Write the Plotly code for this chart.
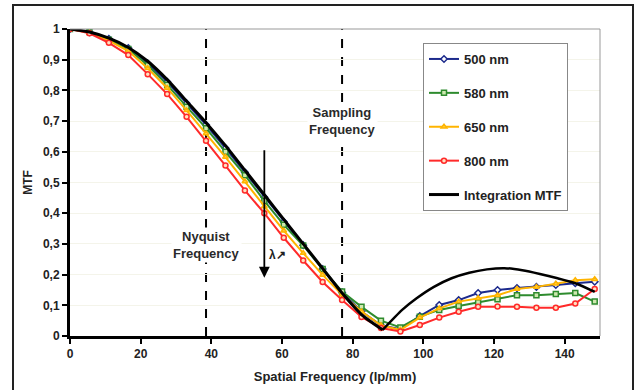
import plotly.graph_objects as go

freq = [0, 5.5, 11, 16.5, 22, 27.5, 33, 38.5, 44, 49.5, 55, 60.5, 66, 71.5, 77,
        82.5, 88, 93.5, 99, 104.5, 110, 115.5, 121, 126.5, 132, 137.5, 143, 148.5]

mtf_500 = [1.0, 0.99, 0.968, 0.938, 0.888, 0.828, 0.758, 0.688, 0.612, 0.533, 0.452, 0.372, 0.296, 0.218,
           0.142, 0.08, 0.035, 0.022, 0.065, 0.101, 0.117, 0.14, 0.15, 0.156, 0.16, 0.166, 0.172, 0.177]
mtf_580 = [1.0, 0.99, 0.965, 0.935, 0.882, 0.818, 0.747, 0.677, 0.600, 0.524, 0.440, 0.362, 0.295, 0.218,
           0.145, 0.095, 0.05, 0.028, 0.063, 0.085, 0.098, 0.11, 0.12, 0.133, 0.133, 0.137, 0.14, 0.112]
mtf_650 = [1.0, 0.988, 0.962, 0.928, 0.872, 0.808, 0.735, 0.66, 0.583, 0.503, 0.422, 0.343, 0.27, 0.199,
           0.134, 0.08, 0.035, 0.02, 0.06, 0.09, 0.112, 0.123, 0.133, 0.153, 0.16, 0.17, 0.182, 0.185]
mtf_800 = [1.0, 0.986, 0.955, 0.915, 0.853, 0.788, 0.714, 0.636, 0.555, 0.474, 0.40, 0.32, 0.246, 0.176,
           0.117, 0.062, 0.026, 0.015, 0.036, 0.06, 0.079, 0.095, 0.096, 0.095, 0.092, 0.092, 0.106, 0.153]

# integration MTF: main lobe and second lobe
int_freq_a = [0, 5.5, 11, 16.5, 22, 27.5, 33, 38.5, 44, 49.5, 55, 60.5, 66, 71.5, 77, 82.5, 88.5]
int_mtf_a = [1.0, 0.99, 0.97, 0.94, 0.895, 0.835, 0.765, 0.695, 0.62, 0.54, 0.46, 0.38, 0.30, 0.22, 0.14,
             0.07, 0.02]
int_freq_b = [88.5, 94, 98, 103, 108, 113, 118, 123, 128, 133, 138, 143, 148.5]
int_mtf_b = [0.02, 0.085, 0.122, 0.16, 0.188, 0.206, 0.217, 0.221, 0.214, 0.202, 0.188, 0.172, 0.144]

series = [
    ("500 nm", mtf_500, "#1c2a8c", "diamond", "white"),
    ("580 nm", mtf_580, "#2e8b2e", "square", "#cfe8b0"),
    ("650 nm", mtf_650, "#ffb400", "triangle-up", "#ffd040"),
    ("800 nm", mtf_800, "#ff2a2a", "circle", "#ffe0c0"),
]

FONT = "Liberation Sans"
fig = go.Figure()
for i, (name, vals, col, sym, fill) in enumerate(series):
    fig.add_trace(go.Scatter(
        x=freq, y=vals, mode="lines+markers", name=name, legendgroup=str(i),
        line=dict(color=col, width=2),
        marker=dict(symbol=sym, size=5, color=fill, line=dict(color=col, width=1.5)),
    ))
fig.add_trace(go.Scatter(
    x=int_freq_a, y=int_mtf_a, mode="lines", name="Integration MTF", legendgroup="4",
    line=dict(color="black", width=3, shape="spline", smoothing=0.6),
))
fig.add_trace(go.Scatter(
    x=int_freq_b, y=int_mtf_b, mode="lines", name="Integration MTF", legendgroup="4",
    showlegend=False, line=dict(color="black", width=2.5, shape="spline", smoothing=0.6),
))

L, R, T, B = 70, 35, 29, 54
W, H = 635, 390
pw, ph = W - L - R, H - T - B

def px(xp):
    return (xp - L) / pw

def py(yp):
    return (H - B - yp) / ph

shapes = []
for xv in (38.5, 77):
    shapes.append(dict(type="line", xref="x", yref="y", x0=xv, x1=xv, y0=0, y1=1,
                       line=dict(color="black", width=2, dash="dash"), layer="below"))
# outer frame
shapes.append(dict(type="rect", xref="paper", yref="paper", x0=px(13), x1=px(633), y0=py(395), y1=py(5),
                   line=dict(color="#222222", width=2), layer="below"))
# top/right plot border
shapes.append(dict(type="line", xref="paper", yref="paper", x0=0, x1=1, y0=1, y1=1,
                   line=dict(color="#999999", width=1)))
shapes.append(dict(type="line", xref="paper", yref="paper", x0=1, x1=1, y0=0, y1=1,
                   line=dict(color="#999999", width=1)))

ann_font = dict(family=FONT, size=13, color="#2a2a2a")
annotations = [
    dict(x=38.5, y=0.296, xref="x", yref="y", text="<b>Nyquist<br>Frequency</b>", showarrow=False,
         font=ann_font, bgcolor="white"),
    dict(x=77, y=0.70, xref="x", yref="y", text="<b>Sampling<br>Frequency</b>", showarrow=False,
         font=ann_font, bgcolor="white"),
    dict(x=55, y=0.19, ax=55, ay=0.61, xref="x", yref="y", axref="x", ayref="y", text="",
         showarrow=True, arrowhead=2, arrowsize=1.2, arrowwidth=1.8, arrowcolor="black"),
    dict(x=58.8, y=0.265, xref="x", yref="y", text="<b>λ↗</b>", showarrow=False,
         font=dict(family=FONT, size=12, color="#222222")),
]

fig.update_layout(
    width=W, height=H,
    margin=dict(l=L, r=R, t=T, b=B),
    paper_bgcolor="white", plot_bgcolor="white",
    separators=",.",
    font=dict(family=FONT, size=12, color="#222222"),
    showlegend=True,
    legend=dict(x=px(423), y=py(43), xanchor="left", yanchor="top",
                bordercolor="#888888", borderwidth=1, bgcolor="white",
                font=dict(family=FONT, size=13, color="#222222", weight="bold"),
                tracegroupgap=14, traceorder="grouped", itemwidth=30),
    shapes=shapes, annotations=annotations,
)
fig.update_xaxes(range=[0, 150], tickvals=[0, 20, 40, 60, 80, 100, 120, 140], automargin=False,
                 showline=True, linecolor="black", linewidth=3, ticks="outside", ticklen=5,
                 tickwidth=2, tickcolor="black", showgrid=False, zeroline=False,
                 tickfont=dict(family=FONT, size=12, weight="bold"),
                 title=dict(text="<b>Spatial Frequency (lp/mm)</b>", standoff=12,
                            font=dict(family=FONT, size=13)))
fig.update_yaxes(range=[0, 1], dtick=0.1, automargin=False,
                 showline=True, linecolor="black", linewidth=3,
                 ticks="outside", ticklen=5, tickwidth=2, tickcolor="black",
                 showgrid=True, gridcolor="#f4f4ea", zeroline=False,
                 tickfont=dict(family=FONT, size=12, weight="bold"),
                 title=dict(text="<b>MTF</b>", standoff=8, font=dict(family=FONT, size=12)))

fig.write_html("out.html")
